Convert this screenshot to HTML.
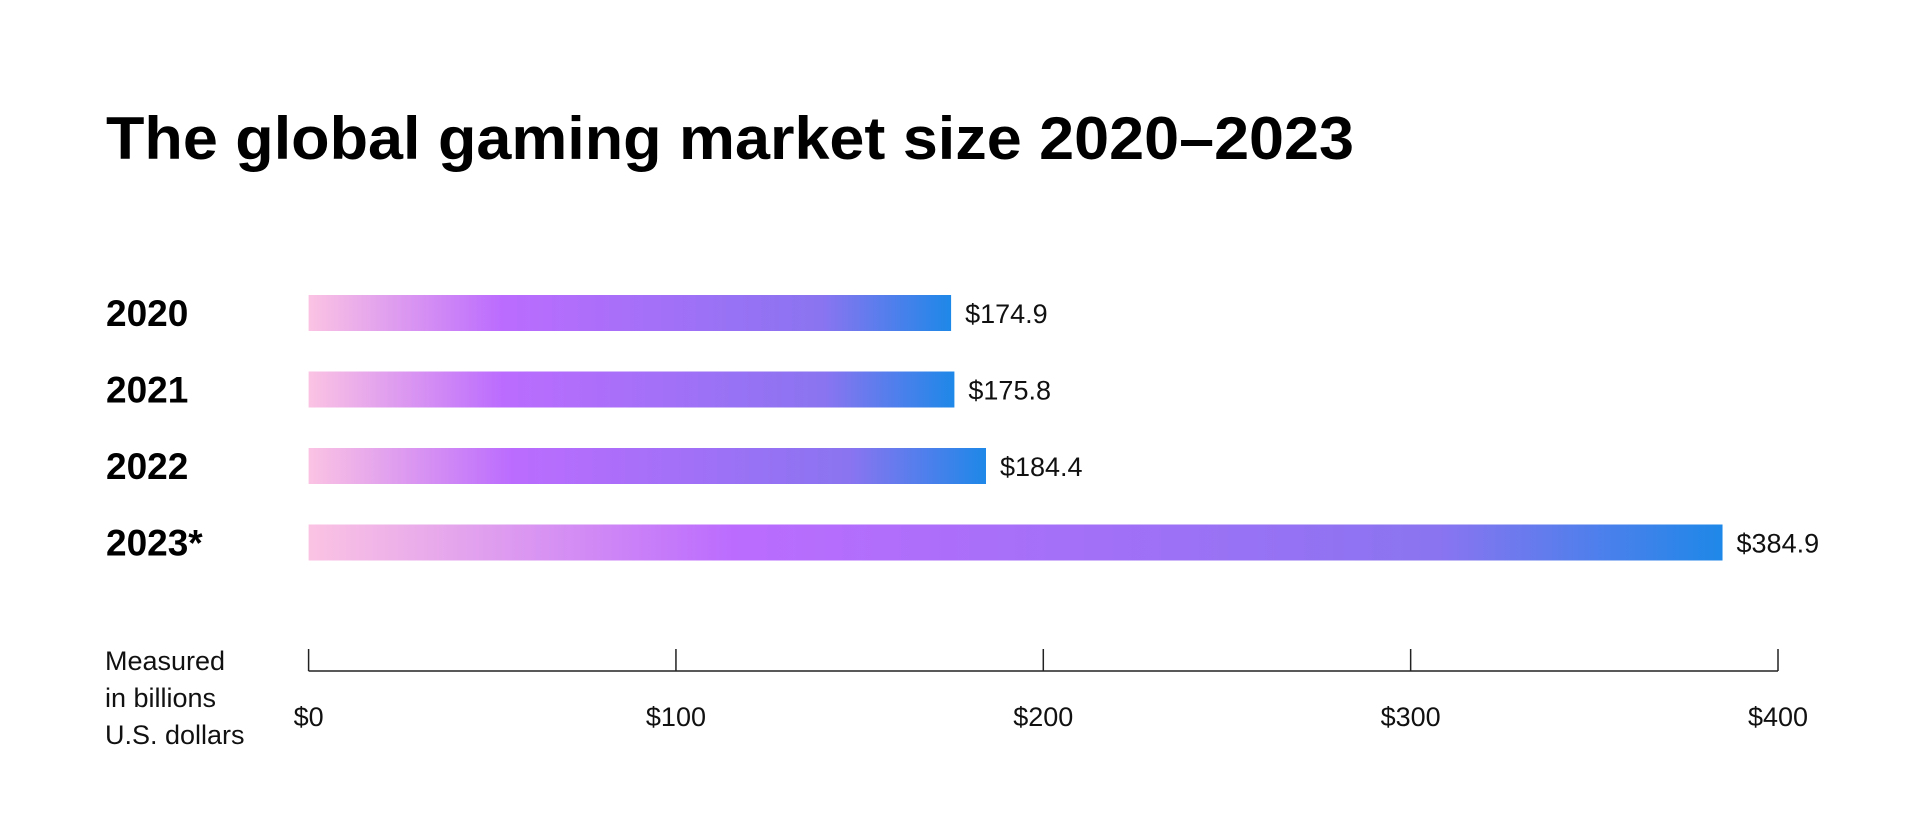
<!DOCTYPE html>
<html><head><meta charset="utf-8"><style>
html,body{margin:0;padding:0;background:#fff;}
svg{display:block;font-family:"Liberation Sans",sans-serif;}
</style></head><body>
<svg id="chart" width="1920" height="840" viewBox="0 0 1920 840">
<defs>
<linearGradient id="g" x1="0" y1="0" x2="1" y2="0">
<stop offset="0" stop-color="#fbc3e3"/>
<stop offset="0.3" stop-color="#bb6cfe"/>
<stop offset="0.8" stop-color="#8a74f0"/>
<stop offset="1" stop-color="#1e88e8"/>
</linearGradient>
</defs>
<text x="106" y="159" font-size="60" font-weight="bold" fill="#000" textLength="1248" lengthAdjust="spacingAndGlyphs">The global gaming market size 2020–2023</text>
<g id="bars"></g>
<g id="axis"></g>
<g font-size="27" fill="#111">
<text x="105" y="670">Measured</text>
<text x="105" y="707">in billions</text>
<text x="105" y="744">U.S. dollars</text>
</g>
</svg>
<script>
const categories = ["2020","2021","2022","2023*"];
const values = [174.9,175.8,184.4,384.9];
const valueLabels = ["$174.9","$175.8","$184.4","$384.9"];
const ticks = [0,100,200,300,400];
const tickLabels = ["$0","$100","$200","$300","$400"];

const NS="http://www.w3.org/2000/svg";
const x0=308.6, x1=1778, maxV=400;
const xs=v=>x0+(v/maxV)*(x1-x0);
const yTop=295, step=76.5, barH=36;
const bars=document.getElementById('bars');
function mk(tag,attrs,parent){const e=document.createElementNS(NS,tag);for(const k in attrs)e.setAttribute(k,attrs[k]);parent.appendChild(e);return e;}
categories.forEach((c,i)=>{
  const y=yTop+i*step;
  const r=mk('rect',{x:x0,y:y,width:xs(values[i])-x0,height:barH,fill:'url(#g)'},bars);
  
  
  const t=mk('text',{x:106,y:y+barH/2+13,'font-size':37,'font-weight':'bold',fill:'#000'},bars);
  t.textContent=c;
  
  
  const v=mk('text',{x:xs(values[i])+14,y:y+barH/2+10,'font-size':27,fill:'#111'},bars);
  v.textContent=valueLabels[i];
  
  
});
const axis=document.getElementById('axis');
const al=mk('line',{x1:x0,x2:x1,y1:671,y2:671,stroke:'#222','stroke-width':1.5},axis);


ticks.forEach((tv,i)=>{
  const x=xs(tv);
  const l=mk('line',{x1:x,x2:x,y1:649,y2:671,stroke:'#222','stroke-width':1.5},axis);
  
  
  const t=mk('text',{x:x,y:726,'font-size':27,fill:'#111','text-anchor':'middle'},axis);
  t.textContent=tickLabels[i];
  
  
});
</script>
</body></html>
